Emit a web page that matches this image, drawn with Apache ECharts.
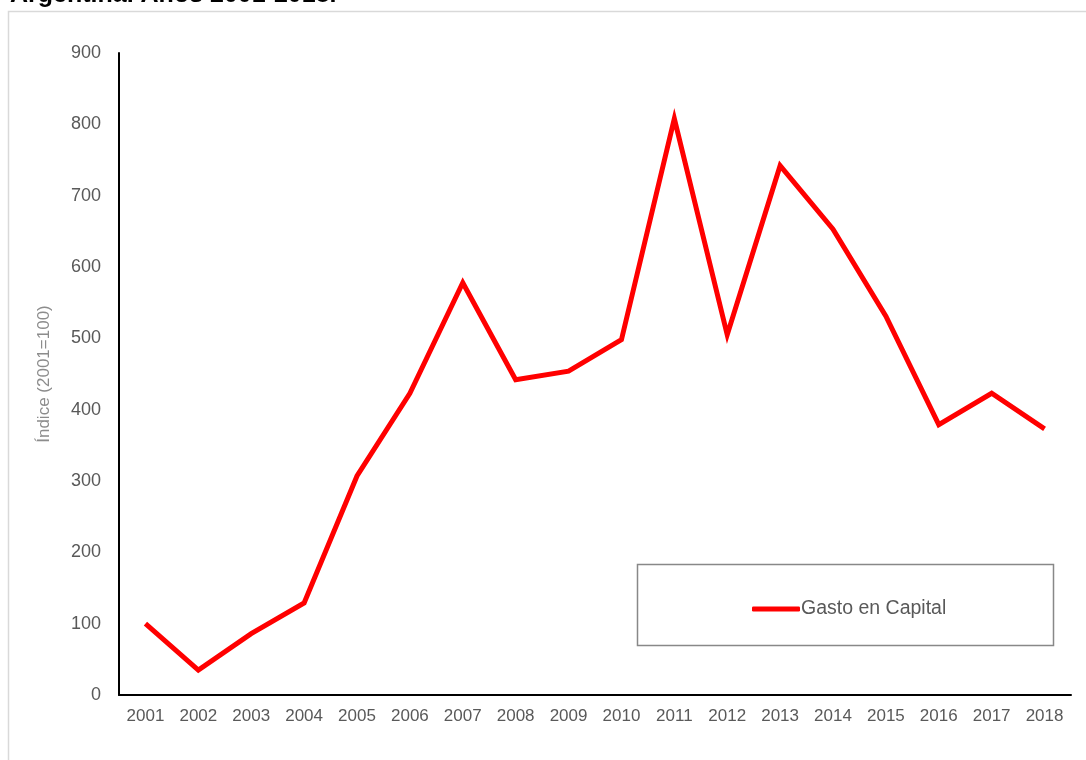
<!DOCTYPE html>
<html>
<head>
<meta charset="utf-8">
<script src="https://cdn.jsdelivr.net/npm/echarts@6/dist/echarts.min.js"></script>
<style>html,body{margin:0;padding:0;background:#fff}#c{width:1086px;height:760px}</style>
</head>
<body>
<div id="c"></div>
<script>
const categories = ['2001','2002','2003','2004','2005','2006','2007','2008','2009','2010','2011','2012','2013','2014','2015','2016','2017','2018'];
const gastoCapital = [100, 35, 86, 129, 307, 423, 578, 442, 454, 498, 808, 505, 742, 653, 531, 379, 423, 373];
const seriesName = 'Gasto en Capital';
const titleText = 'Argentina. Años 2001-2018.';
const yAxisName = 'Índice (2001=100)';

const chart = echarts.init(document.getElementById('c'), null, {renderer: 'canvas'});
const font = 'Arial, "Liberation Sans", sans-serif';
chart.setOption({
  backgroundColor: '#fff',
  animation: false,
  title: {
    text: titleText, left: 5, top: -22,
    textStyle: {fontFamily: font, fontWeight: 'bold', fontSize: 25, color: '#000'}
  },
  graphic: [
    {type: 'rect', shape: {x: 8.5, y: 11.5, width: 1090, height: 760}, style: {fill: 'none', stroke: '#d9d9d9', lineWidth: 1.5}, z: -1},
    {type: 'rect', shape: {x: 637.5, y: 564.5, width: 416, height: 81}, style: {fill: '#fff', stroke: '#888', lineWidth: 1.5}, z: 5}
  ],
  legend: {
    data: [{name: seriesName, icon: 'roundRect'}], left: 747, top: 594, z: 10,
    itemWidth: 48, itemHeight: 5, itemGap: 4,
    itemStyle: {color: '#ff0000'},
    textStyle: {fontFamily: font, fontSize: 19.5, color: '#595959', padding: [0,0,0,-4]}
  },
  grid: {left: 119, right: 15, top: 53, bottom: 65, containLabel: false},
  xAxis: {
    type: 'category', data: categories, boundaryGap: true,
    axisLine: {lineStyle: {color: '#000', width: 2}},
    axisTick: {show: false},
    axisLabel: {fontFamily: font, fontSize: 17, color: '#595959', margin: 13, interval: 0}
  },
  yAxis: {
    type: 'value', min: 0, max: 900, interval: 100,
    name: yAxisName, nameLocation: 'middle', nameGap: 66, nameRotate: 90,
    nameTextStyle: {fontFamily: font, fontSize: 17, color: '#8c8c8c'},
    axisLine: {show: true, lineStyle: {color: '#000', width: 2}},
    axisTick: {show: false},
    splitLine: {show: false},
    axisLabel: {fontFamily: font, fontSize: 18, color: '#595959', margin: 18}
  },
  series: [{
    name: seriesName, type: 'line', data: gastoCapital,
    symbol: 'none', color: '#ff0000',
    lineStyle: {color: '#ff0000', width: 5, join: 'miter'}
  }]
});
</script>
</body>
</html>
